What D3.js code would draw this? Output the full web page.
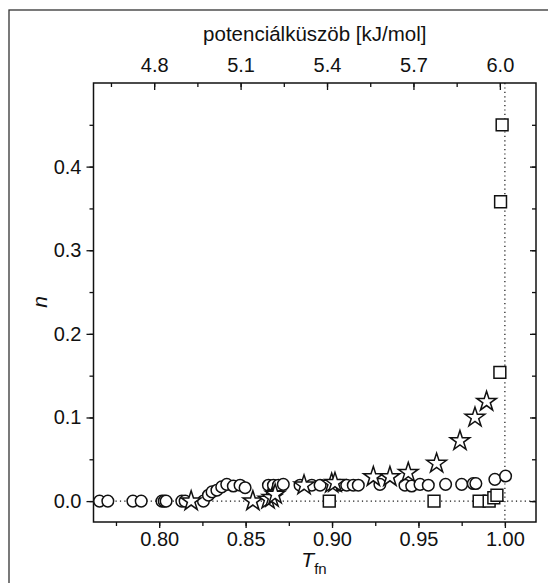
<!DOCTYPE html>
<html>
<head>
<meta charset="utf-8">
<script src="https://cdn.jsdelivr.net/npm/d3@7"></script>
<style>
  body { margin: 0; background: #fff; }
  text { font-family: "Liberation Sans", Arial, sans-serif; fill: #111; }
</style>
</head>
<body>
<svg width="548" height="583"></svg>
<script>
// circles: [T_fn, n]
const circleData = [
  [0.7655, 0], [0.7703, 0], [0.7848, 0], [0.7896, 0], [0.8016, 0], [0.8029, 0],
  [0.8040, 0], [0.8131, 0], [0.8150, 0], [0.8256, 0],
  [0.8285, 0.007], [0.8306, 0.011], [0.8334, 0.013], [0.8362, 0.017], [0.8391, 0.020],
  [0.8429, 0.018], [0.8468, 0.019], [0.8497, 0.016],
  [0.8632, 0.019], [0.8661, 0.019], [0.8690, 0.019], [0.8718, 0.020],
  [0.8815, 0.019], [0.8883, 0.019], [0.8931, 0.019],
  [0.9046, 0.019], [0.9085, 0.019], [0.9123, 0.019], [0.9152, 0.019],
  [0.9277, 0.020], [0.9422, 0.019], [0.9461, 0.018], [0.9509, 0.020], [0.9557, 0.019],
  [0.9657, 0.020], [0.9750, 0.020], [0.9817, 0.021], [0.9832, 0.021],
  [0.9942, 0.026], [1.0004, 0.030]
];
// stars
const starData = [
  [0.8185, 0], [0.8542, 0], [0.8630, 0.002], [0.8653, 0.004], [0.8671, 0.008],
  [0.8838, 0.019], [0.8998, 0.021], [0.9017, 0.022], [0.9239, 0.029], [0.9335, 0.029],
  [0.9441, 0.034], [0.9605, 0.045], [0.9740, 0.072], [0.9827, 0.100], [0.9894, 0.119]
];
// squares
const squareData = [
  [0.8984, 0], [0.9590, 0], [0.9851, 0], [0.9909, 0], [0.9936, 0.004], [0.9954, 0.007],
  [0.9971, 0.154], [0.9975, 0.358], [0.9984, 0.450]
];

const xTicks = [0.80, 0.85, 0.90, 0.95, 1.00];
const yTicks = [0.0, 0.1, 0.2, 0.3, 0.4];
const topTicks = [4.8, 5.1, 5.4, 5.7, 6.0];

// potencialkuszob = 6 * T_fn + 0.0174
const topSlope = 6, topOffset = 0.0174;

const svg = d3.select("svg");
const plot = { left: 93.5, right: 536, top: 83, bottom: 522 };
const ink = "#111";
const fontSize = "20px";

const x = d3.scaleLinear().domain([0.762, 1.018]).range([plot.left, plot.right]);
const y = d3.scaleLinear().domain([-0.025, 0.5]).range([plot.bottom, plot.top]);
const xTop = d3.scaleLinear()
  .domain(x.domain().map(t => topSlope * t + topOffset))
  .range([plot.left, plot.right]);

// outer frame (only top and left edges visible)
svg.append("rect")
  .attr("x", 9).attr("y", 10).attr("width", 700).attr("height", 700)
  .attr("fill", "none").attr("stroke", "#333").attr("stroke-width", 1.3);

// reference dotted lines
svg.append("line")
  .attr("x1", plot.left).attr("x2", plot.right)
  .attr("y1", y(0)).attr("y2", y(0))
  .attr("stroke", ink).attr("stroke-width", 1.2).attr("stroke-dasharray", "1.2,3.2");
svg.append("line")
  .attr("x1", x(1.0)).attr("x2", x(1.0))
  .attr("y1", plot.top).attr("y2", plot.bottom)
  .attr("stroke", ink).attr("stroke-width", 1.2).attr("stroke-dasharray", "1.2,3.2");

function styleAxis(g) {
  g.select(".domain").remove();
  g.selectAll("line").attr("stroke", ink).attr("stroke-width", 1.3);
  g.selectAll("text").style("font-size", fontSize).attr("fill", ink);
}

const xMinor = d3.range(0.775, 1.018, 0.025);
const yMinor = d3.range(-0.0, 0.5, 0.05);
const topMinor = d3.range(4.65, 6.13, 0.15);

// bottom
svg.append("g").attr("transform", `translate(0,${plot.bottom})`)
  .call(d3.axisBottom(x).tickValues(xMinor).tickSize(4).tickFormat(""))
  .call(styleAxis);
svg.append("g").attr("transform", `translate(0,${plot.bottom})`)
  .call(d3.axisBottom(x).tickValues(xTicks).tickSize(6).tickPadding(4).tickFormat(d3.format(".2f")))
  .call(styleAxis);

// left
svg.append("g").attr("transform", `translate(${plot.left},0)`)
  .call(d3.axisLeft(y).tickValues(yMinor).tickSize(4).tickFormat(""))
  .call(styleAxis);
svg.append("g").attr("transform", `translate(${plot.left},0)`)
  .call(d3.axisLeft(y).tickValues(yTicks).tickSize(7).tickPadding(5).tickFormat(d3.format(".1f")))
  .call(styleAxis);

// right (inward)
svg.append("g").attr("transform", `translate(${plot.right},0)`)
  .call(d3.axisRight(y).tickValues(yMinor).tickSize(-4).tickFormat(""))
  .call(styleAxis);
svg.append("g").attr("transform", `translate(${plot.right},0)`)
  .call(d3.axisRight(y).tickValues(yTicks).tickSize(-6).tickFormat(""))
  .call(styleAxis);

// top (inward)
svg.append("g").attr("transform", `translate(0,${plot.top})`)
  .call(d3.axisTop(xTop).tickValues(topMinor).tickSize(-4).tickFormat(""))
  .call(styleAxis);
const topAxis = svg.append("g").attr("transform", `translate(0,${plot.top})`)
  .call(d3.axisTop(xTop).tickValues(topTicks).tickSize(-7).tickFormat(d3.format(".1f")))
  .call(styleAxis);
topAxis.selectAll("text").attr("y", -11);

// plot frame
svg.append("rect")
  .attr("x", plot.left).attr("y", plot.top)
  .attr("width", plot.right - plot.left).attr("height", plot.bottom - plot.top)
  .attr("fill", "none").attr("stroke", ink).attr("stroke-width", 1.5);

// markers
const marks = svg.append("g").attr("fill", "#fff").attr("stroke", ink).attr("stroke-width", 1.5);

marks.selectAll(".c").data(circleData).join("circle")
  .attr("cx", d => x(d[0])).attr("cy", d => y(d[1])).attr("r", 5.8);

marks.selectAll(".s").data(starData).join("path")
  .attr("d", d3.symbol(d3.symbolStar, 120))
  .attr("transform", d => `translate(${x(d[0])},${y(d[1])})`);

marks.selectAll(".q").data(squareData).join("path")
  .attr("d", d3.symbol(d3.symbolSquare, 140))
  .attr("transform", d => `translate(${x(d[0])},${y(d[1])})`);

// axis titles
svg.append("text")
  .attr("x", (plot.left + plot.right) / 2).attr("y", 41)
  .attr("text-anchor", "middle").style("font-size", "20.5px")
  .text("potenciálküszöb [kJ/mol]");

const xt = svg.append("text")
  .attr("x", 314).attr("y", 567).attr("text-anchor", "middle").style("font-size", "21px");
xt.append("tspan").style("font-style", "italic").text("T");
xt.append("tspan").attr("dy", 7).style("font-size", "15px").text("fn");

svg.append("text")
  .attr("transform", `translate(47,302) rotate(-90)`)
  .attr("text-anchor", "middle").style("font-size", "21px").style("font-style", "italic")
  .text("n");
</script>
</body>
</html>
